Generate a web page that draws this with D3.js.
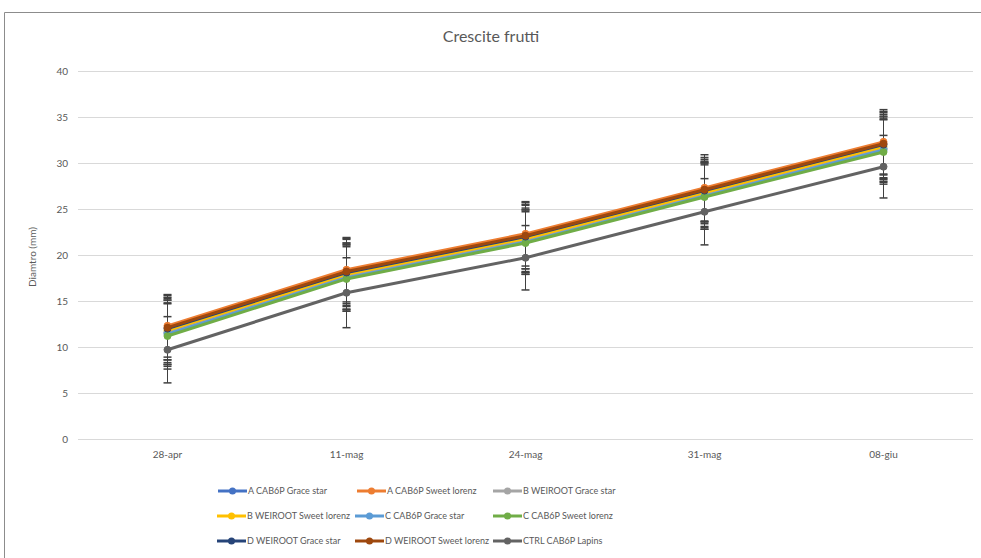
<!DOCTYPE html>
<html>
<head>
<meta charset="utf-8">
<script src="https://cdn.jsdelivr.net/npm/d3@7/dist/d3.min.js"></script>
<style>
  html, body { margin: 0; padding: 0; background: #fff; }
  svg { display: block; font-family: Lato, "Open Sans", sans-serif; }
</style>
</head>
<body>
<svg id="chart" width="981" height="558"></svg>
<script>
// Sampling dates
const dates = ["28-apr", "11-mag", "24-mag", "31-mag", "08-giu"];

// Series names (legend order)
const seriesNames = [
  "A CAB6P Grace star", "A CAB6P Sweet lorenz", "B WEIROOT Grace star",
  "B WEIROOT Sweet lorenz", "C CAB6P Grace star", "C CAB6P Sweet lorenz",
  "D WEIROOT Grace star", "D WEIROOT Sweet lorenz", "CTRL CAB6P Lapins"
];
const seriesColors = [
  "#4472C4", "#ED7D31", "#A5A5A5", "#FFC000", "#5B9BD5", "#70AD47",
  "#264478", "#9E480E", "#636363"
];

// Mean fruit diameter (mm) per series, one value per date
const aGrace   = [11.6, 17.7, 21.6, 26.6, 31.6];
const aSweet   = [12.3, 18.4, 22.3, 27.3, 32.3];
const bGrace   = [11.5, 17.6, 21.5, 26.5, 31.5];
const bSweet   = [11.8, 17.9, 21.8, 26.8, 31.8];
const cGrace   = [11.4, 17.5, 21.4, 26.4, 31.4];
const cSweet   = [11.2, 17.4, 21.3, 26.3, 31.2];
const dGrace   = [12.0, 18.1, 22.0, 27.0, 32.0];
const dSweet   = [12.1, 18.2, 22.1, 27.1, 32.1];
const ctrl     = [9.7, 15.9, 19.7, 24.7, 29.6];

// Standard deviation (mm) per series, one value per date
const aGraceSd = [3.5, 3.6, 3.5, 3.5, 3.4];
const aSweetSd = [3.4, 3.5, 3.5, 3.6, 3.5];
const bGraceSd = [3.6, 3.5, 3.4, 3.5, 3.6];
const bSweetSd = [3.5, 3.4, 3.6, 3.4, 3.5];
const cGraceSd = [3.3, 3.6, 3.5, 3.6, 3.4];
const cSweetSd = [3.6, 3.5, 3.4, 3.5, 3.5];
const dGraceSd = [3.4, 3.7, 3.5, 3.4, 3.6];
const dSweetSd = [3.5, 3.5, 3.6, 3.5, 3.4];
const ctrlSd   = [3.6, 3.8, 3.5, 3.6, 3.4];

const yTicks = [0, 5, 10, 15, 20, 25, 30, 35, 40];

const means = [aGrace, aSweet, bGrace, bSweet, cGrace, cSweet, dGrace, dSweet, ctrl];
const sds = [aGraceSd, aSweetSd, bGraceSd, bSweetSd, cGraceSd, cSweetSd, dGraceSd, dSweetSd, ctrlSd];

const series = seriesNames.map((name, i) => ({
  name, color: seriesColors[i],
  points: dates.map((d, j) => ({ date: d, value: means[i][j], sd: sds[i][j] }))
}));

const svg = d3.select("#chart");
const textColor = "#595959";

// Chart frame
svg.append("path")
  .attr("d", "M4.5,558 L4.5,12.5 L981,12.5")
  .attr("fill", "none").attr("stroke", "#8c8c8c").attr("stroke-width", 1);

const plot = { left: 78, right: 973, top: 71, bottom: 439 };

const x = d3.scaleBand().domain(dates).range([plot.left, plot.right]);
const y = d3.scaleLinear().domain([0, 40]).range([plot.bottom, plot.top]);

// Gridlines
svg.append("g")
  .selectAll("line").data(yTicks).join("line")
  .attr("x1", plot.left).attr("x2", plot.right)
  .attr("y1", d => Math.round(y(d)) + 0.5).attr("y2", d => Math.round(y(d)) + 0.5)
  .attr("stroke", "#d9d9d9").attr("stroke-width", 1);

// Y axis labels
const yAxis = d3.axisLeft(y).tickValues(yTicks).tickSize(0).tickPadding(0);
svg.append("g").attr("transform", `translate(${plot.left - 10},0)`)
  .call(yAxis)
  .call(g => g.select(".domain").remove())
  .call(g => g.selectAll("text").attr("fill", textColor).attr("font-size", 10)
    .attr("font-family", "Lato, sans-serif"));

// X axis labels
const xAxis = d3.axisBottom(x).tickSize(0).tickPadding(0);
svg.append("g").attr("transform", `translate(0,${plot.bottom + 12})`)
  .call(xAxis)
  .call(g => g.select(".domain").remove())
  .call(g => g.selectAll("text").attr("fill", textColor).attr("font-size", 10)
    .attr("font-family", "Lato, sans-serif"));

// Title
svg.append("text")
  .attr("x", 491).attr("y", 42)
  .attr("text-anchor", "middle")
  .attr("fill", textColor).attr("font-size", 16)
  .text("Crescite frutti");

// Y axis title
svg.append("text")
  .attr("transform", `translate(36,${(plot.top + plot.bottom) / 2 + 2}) rotate(-90)`)
  .attr("text-anchor", "middle")
  .attr("fill", textColor).attr("font-size", 10)
  .text("Diamtro (mm)");

const cx = d => x(d) + x.bandwidth() / 2;

// Error bars
const errG = svg.append("g");
series.forEach(s => {
  const g = errG.append("g");
  g.selectAll("line.v").data(s.points).join("line")
    .attr("x1", d => cx(d.date)).attr("x2", d => cx(d.date))
    .attr("y1", d => y(d.value + d.sd)).attr("y2", d => y(d.value - d.sd))
    .attr("stroke", "#404040").attr("stroke-width", 1);
  [1, -1].forEach(sign => {
    g.selectAll(null).data(s.points).join("line")
      .attr("x1", d => cx(d.date) - 4).attr("x2", d => cx(d.date) + 4)
      .attr("y1", d => y(d.value + sign * d.sd)).attr("y2", d => y(d.value + sign * d.sd))
      .attr("stroke", "#404040").attr("stroke-width", 1.5);
  });
});

// Lines and markers
const line = d3.line().x(d => cx(d.date)).y(d => y(d.value));
series.forEach(s => {
  svg.append("path").datum(s.points)
    .attr("d", line).attr("fill", "none")
    .attr("stroke", s.color).attr("stroke-width", 3)
    .attr("stroke-linejoin", "round");
  svg.append("g").selectAll("circle").data(s.points).join("circle")
    .attr("cx", d => cx(d.date)).attr("cy", d => y(d.value)).attr("r", 3.5)
    .attr("fill", s.color).attr("stroke", s.color).attr("stroke-width", 1);
});

// Legend
const legendRows = [491, 516, 541];
const legendCols = [
  [218, 357, 493],
  [217, 355, 493],
  [217, 355, 493]
];
series.forEach((s, i) => {
  const r = Math.floor(i / 3), c = i % 3;
  const lx = legendCols[r][c], ly = legendRows[r];
  const g = svg.append("g").attr("transform", `translate(${lx},${ly})`);
  g.append("line").attr("x1", 0).attr("x2", 29).attr("y1", 0).attr("y2", 0)
    .attr("stroke", s.color).attr("stroke-width", 3);
  g.append("circle").attr("cx", 14.5).attr("cy", 0).attr("r", 3.5).attr("fill", s.color);
  g.append("text").attr("x", 30).attr("y", 3.2)
    .attr("fill", textColor).attr("font-size", 9)
    .text(s.name);
});
</script>
</body>
</html>
